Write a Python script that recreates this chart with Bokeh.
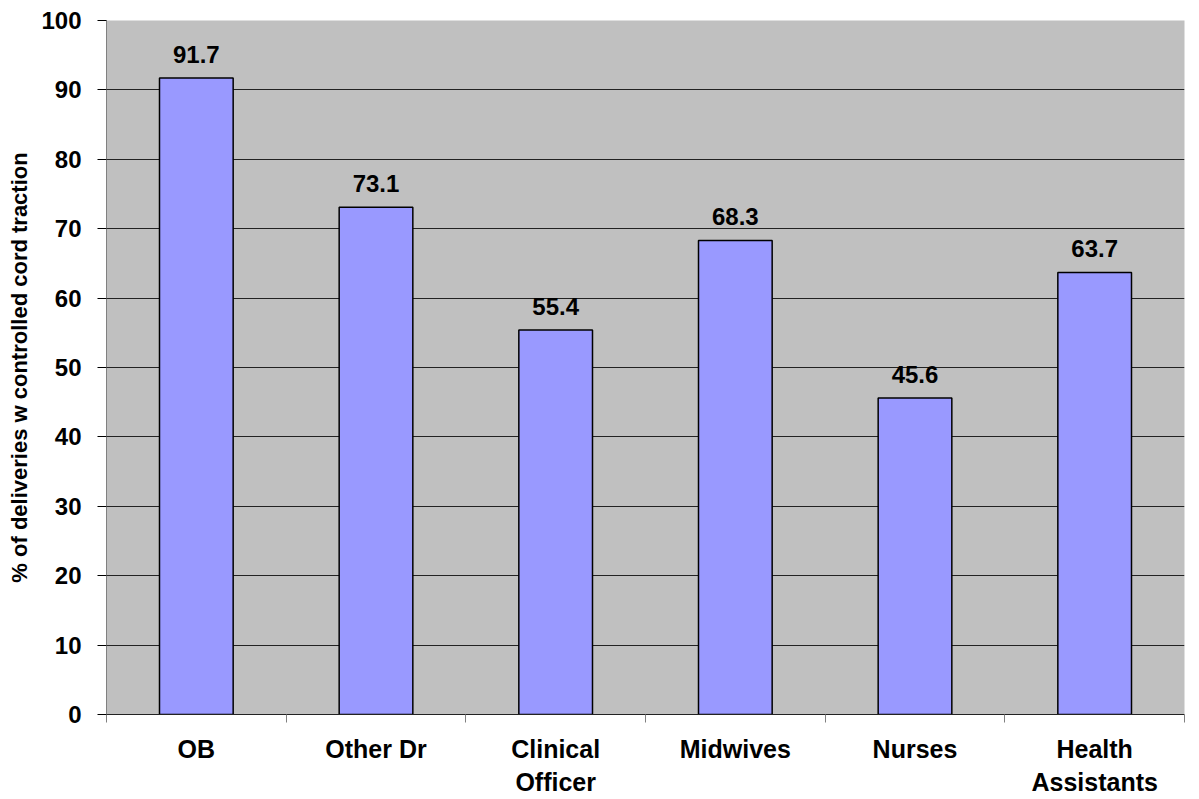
from bokeh.plotting import figure
from bokeh.models import ColumnDataSource, FixedTicker, Range1d
from bokeh.core.properties import value
from bokeh.embed import file_html
from bokeh.resources import INLINE

categories = ["OB", "Other Dr", "Clinical\nOfficer", "Midwives", "Nurses", "Health\nAssistants"]
values = [91.7, 73.1, 55.4, 68.3, 45.6, 63.7]
labels = ["91.7", "73.1", "55.4", "68.3", "45.6", "63.7"]
y_ticks = [0, 10, 20, 30, 40, 50, 60, 70, 80, 90, 100]

FONT = "Liberation Sans"

xs = [i + 0.5 for i in range(len(categories))]
src = ColumnDataSource(dict(x=xs, top=values, lab=labels))

p = figure(width=1190, height=799, output_backend="svg", toolbar_location=None,
           x_range=Range1d(0, len(categories)), y_range=Range1d(0, 100),
           min_border_left=106, min_border_top=20, min_border_right=6, min_border_bottom=82)
p.outline_line_color = None
p.background_fill_color = "#C0C0C0"
p.border_fill_color = "white"

p.vbar(x="x", top="top", width=0.41, bottom=0, source=src,
       fill_color="#9999FF", line_color="black", line_width=1.5)
p.text(x="x", y="top", text="lab", source=src, y_offset=-15,
       text_align="center", text_baseline="bottom",
       text_font=value(FONT), text_font_style="bold", text_font_size="24px", text_color="black")

# y axis
p.yaxis.ticker = FixedTicker(ticks=y_ticks, minor_ticks=[])
p.yaxis.axis_line_color = "#808080"
p.yaxis.major_tick_line_color = "black"
p.yaxis.major_tick_out = 9
p.yaxis.major_tick_in = 0
p.yaxis.major_label_text_font = FONT
p.yaxis.major_label_text_font_style = "bold"
p.yaxis.major_label_text_font_size = "24px"
p.yaxis.major_label_text_color = "black"
p.yaxis.major_label_standoff = 16
p.yaxis.axis_label = "% of deliveries w controlled cord traction"
p.yaxis.axis_label_text_font = FONT
p.yaxis.axis_label_text_font_style = "bold"
p.yaxis.axis_label_text_font_size = "22px"
p.yaxis.axis_label_text_color = "black"
p.yaxis.axis_label_standoff = 6

# x axis: labels at centers, ticks at boundaries
p.xaxis.ticker = FixedTicker(ticks=xs, minor_ticks=list(range(len(categories) + 1)))
p.xaxis.major_label_overrides = {x: c for x, c in zip(xs, categories)}
p.xaxis.major_tick_out = 0
p.xaxis.major_tick_in = 0
p.xaxis.minor_tick_out = 8
p.xaxis.minor_tick_in = 0
p.xaxis.minor_tick_line_color = "#808080"
p.xaxis.axis_line_color = "#222222"
p.xaxis.major_label_text_font = FONT
p.xaxis.major_label_text_font_style = "bold"
p.xaxis.major_label_text_font_size = "25px"
p.xaxis.major_label_text_color = "black"
p.xaxis.major_label_standoff = 12

p.xgrid.grid_line_color = None
p.ygrid.ticker = FixedTicker(ticks=y_ticks)
p.ygrid.grid_line_color = "#222222"
p.ygrid.grid_line_width = 1

open("out.html", "w").write(file_html(p, INLINE))
